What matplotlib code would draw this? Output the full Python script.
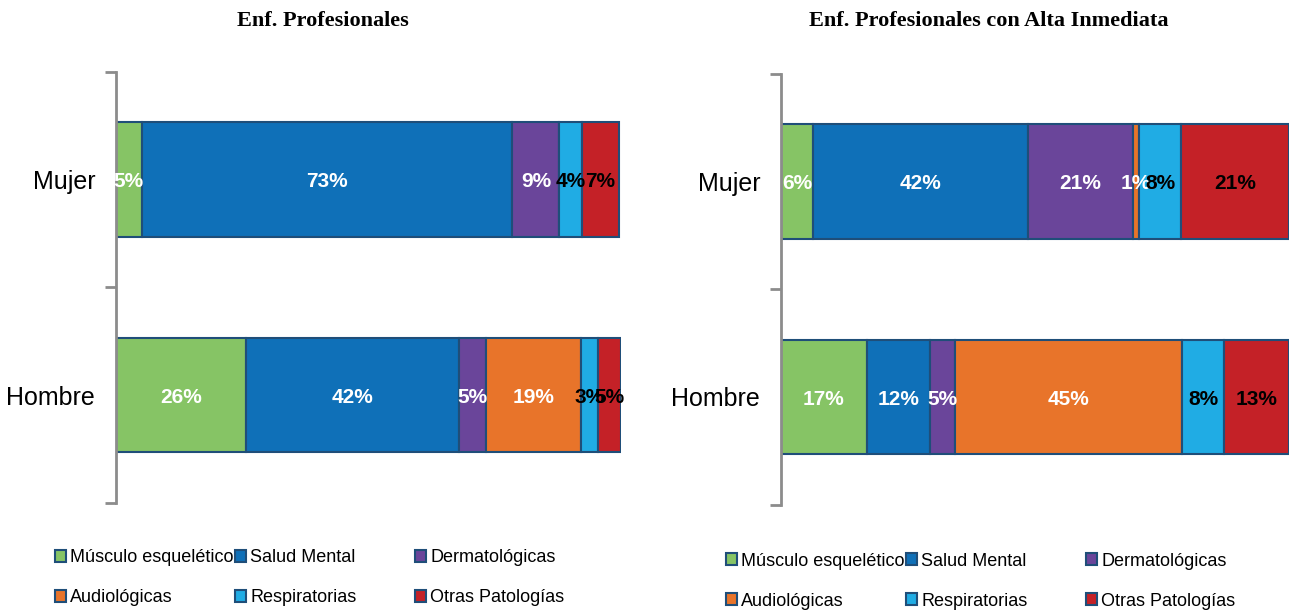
import matplotlib.pyplot as plt
from matplotlib.patches import Patch

# datos (porcentajes)
categorias = ["Hombre", "Mujer"]
patologias = ["Músculo esquelético", "Salud Mental", "Dermatológicas",
              "Audiológicas", "Respiratorias", "Otras Patologías"]
colores = ["#86C465", "#0F70B8", "#6A459A", "#E8742A", "#20ACE4", "#C42127"]
color_txt = ["white", "white", "white", "white", "black", "black"]

# Enf. Profesionales: [Hombre, Mujer] por patologia
ep_musculo = [25.7, 5.1]
ep_mental = [42.3, 73.4]
ep_dermato = [5.3, 9.3]
ep_audio = [18.7, 0.0]
ep_resp = [3.4, 4.4]
ep_otras = [4.6, 7.3]

# Enf. Profesionales con Alta Inmediata
ai_musculo = [16.9, 6.4]
ai_mental = [12.4, 42.2]
ai_dermato = [4.9, 20.6]
ai_audio = [44.7, 1.2]
ai_resp = [8.3, 8.4]
ai_otras = [12.8, 21.2]

titulo1 = "Enf. Profesionales"
titulo2 = "Enf. Profesionales con Alta Inmediata"

plt.rcParams['font.family'] = ['Liberation Sans', 'DejaVu Sans']
fig = plt.figure(figsize=(12.93, 6.14), dpi=100)

def barras(ax, series, titulo):
    izq = [0, 0]
    for vals, col, tc in zip(series, colores, color_txt):
        ax.barh([0, 1], vals, left=izq, height=0.53, color=col,
                edgecolor="#1F4E79", linewidth=1.5)
        for i, v in enumerate(vals):
            if v > 0.5:
                ax.text(izq[i] + v / 2, i - 0.01, "%d%%" % int(v + 0.5), ha="center",
                        va="center", color=tc, fontsize=15, fontweight="bold")
        izq = [izq[0] + vals[0], izq[1] + vals[1]]
    ax.set_xlim(0, 100)
    ax.set_ylim(-0.5, 1.5)
    ax.set_xticks([])
    ax.set_yticks([-0.5, 0.5, 1.5])
    ax.set_yticklabels([])
    ax.set_yticks([0, 1], minor=True)
    ax.set_yticklabels(categorias, minor=True, fontsize=18)
    ax.tick_params(axis="y", which="major", length=8, width=2, color="#8C8C8C")
    ax.tick_params(axis="y", which="minor", length=0, pad=15)
    for s in ["top", "right", "bottom"]:
        ax.spines[s].set_visible(False)
    ax.spines["left"].set_color("#8C8C8C")
    ax.spines["left"].set_linewidth(2)
    pos = ax.get_position()
    fig.text((pos.x0 + pos.x1) / 2 - 0.0356, 0.966, titulo, ha="center",
             va="center", fontsize=16, fontweight="bold", family="Liberation Serif")

ax1 = fig.add_axes([0.0897, 0.181, 0.3906, 0.702])
ax2 = fig.add_axes([0.604, 0.178, 0.393, 0.702])
barras(ax1, [ep_musculo, ep_mental, ep_dermato, ep_audio, ep_resp, ep_otras], titulo1)
barras(ax2, [ai_musculo, ai_mental, ai_dermato, ai_audio, ai_resp, ai_otras], titulo2)

# leyendas: 3 columnas x 2 filas, orden por filas
def leyenda(x0, y0):
    for k, (nom, col) in enumerate(zip(patologias, colores)):
        fila, colm = divmod(k, 3)
        x = (x0 + colm * 180) / 1293
        y = 1 - (y0 + fila * 40) / 614
        fig.legend(handles=[Patch(facecolor=col, edgecolor="#1F4E79", linewidth=1.5)],
                   labels=[nom], loc="center left", bbox_to_anchor=(x, y),
                   frameon=False, fontsize=13, handlelength=0.6, handleheight=0.6,
                   handletextpad=0.25, borderpad=0, borderaxespad=0)

leyenda(55, 558)
leyenda(726, 561)

fig.savefig("out.png", dpi=100)
